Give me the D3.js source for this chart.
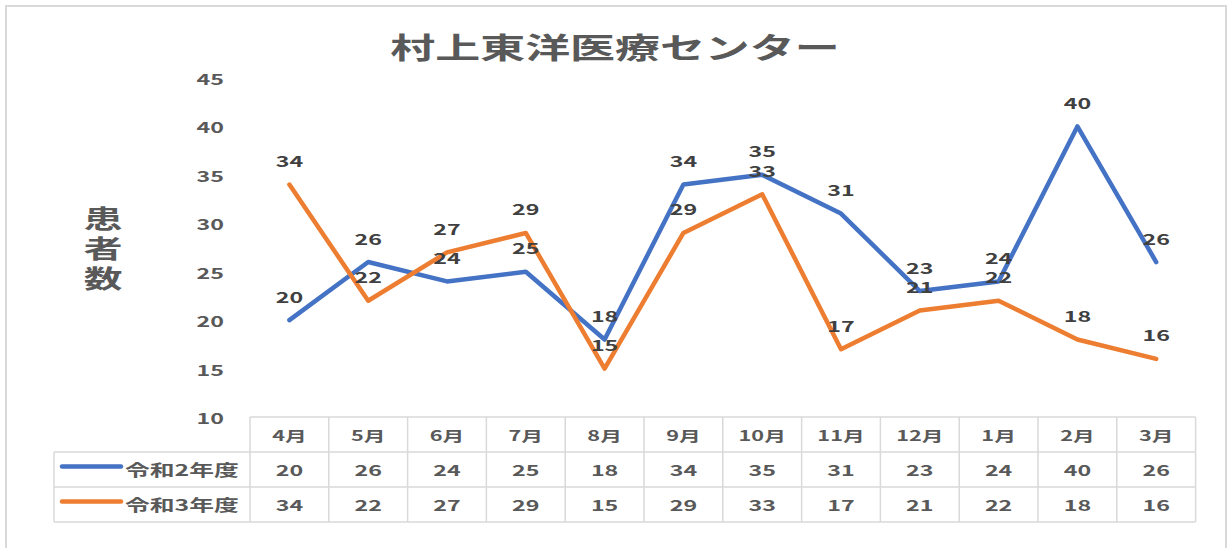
<!DOCTYPE html>
<html>
<head>
<meta charset="utf-8">
<script src="https://cdn.jsdelivr.net/npm/d3@7"></script>
<style>
  body { margin: 0; background: #fff; }
  text { font-family: "Noto Sans CJK JP", "Noto Sans", sans-serif; font-weight: bold; }
</style>
</head>
<body>
<div id="chart-area"></div>
<script>

// data
var months = ["4月", "5月", "6月", "7月", "8月", "9月", "10月", "11月", "12月", "1月", "2月", "3月"];
var seriesNames = ["令和2年度", "令和3年度"];
var r2 = [20, 26, 24, 25, 18, 34, 35, 31, 23, 24, 40, 26];
var r3 = [34, 22, 27, 29, 15, 29, 33, 17, 21, 22, 18, 16];
var yTicks = [10, 15, 20, 25, 30, 35, 40, 45];
var colors = ["#4472C4", "#ED7D31"];

var series = [
  {name: seriesNames[0], values: r2, color: colors[0]},
  {name: seriesNames[1], values: r3, color: colors[1]}
];

var width = 1227, height = 548;
var stretch = 1.55;   // the picture's text is wide

var svg = d3.select("#chart-area").append("svg")
    .attr("width", width)
    .attr("height", height);

// outer frame
svg.append("rect")
    .attr("x", 6).attr("y", 6)
    .attr("width", 1220).attr("height", 560)
    .attr("fill", "#fff")
    .attr("stroke", "#d9d9d9")
    .attr("stroke-width", 2);

// wide text helper
function wideText(parent, x, y, str, size, anchor, color) {
  return parent.append("text")
      .attr("transform", "translate(" + x + "," + y + ") scale(" + stretch + ",1)")
      .attr("text-anchor", anchor)
      .attr("dominant-baseline", "central")
      .attr("font-size", size)
      .attr("fill", color)
      .text(str);
}

// scales
var x = d3.scaleBand()
    .domain(months)
    .range([250, 1195.6]);

var y = d3.scaleLinear()
    .domain([10, 45])
    .range([417, 78]);

function cx(d, i) { return x(months[i]) + x.bandwidth() / 2; }

// title
wideText(svg, 615, 46, "村上東洋医療センター", 29, "middle", "#595959");

// y axis title (vertical)
["患", "者", "数"].forEach(function(c, i) {
  wideText(svg, 103, 217 + i * 30, c, 25, "middle", "#595959");
});

// y axis
var yAxis = d3.axisLeft(y).tickValues(yTicks).tickSize(0).tickPadding(0);
var yg = svg.append("g")
    .attr("transform", "translate(224,0)")
    .call(yAxis);
yg.select(".domain").remove();
yg.selectAll("text")
    .attr("x", 0)
    .attr("dy", null)
    .attr("dominant-baseline", "central")
    .attr("transform", "scale(" + stretch + ",1)")
    .attr("font-size", 15)
    .attr("font-family", null)
    .attr("fill", "#595959");

// lines
var line = d3.line()
    .x(function(d, i) { return cx(d, i); })
    .y(function(d) { return y(d); });

series.forEach(function(s) {
  svg.append("path")
      .datum(s.values)
      .attr("d", line)
      .attr("fill", "none")
      .attr("stroke", s.color)
      .attr("stroke-width", 4.5)
      .attr("stroke-linejoin", "round")
      .attr("stroke-linecap", "round");
});

// data labels
series.forEach(function(s) {
  s.values.forEach(function(v, i) {
    wideText(svg, cx(v, i), y(v) - 24, v, 15, "middle", "#404040");
  });
});

// data table
var rowTop = 417, rowH = 35, tableLeft = 54;
var tableRight = x.range()[1];
var grid = svg.append("g")
    .attr("stroke", "#d9d9d9")
    .attr("stroke-width", 1.5);

grid.append("line").attr("x1", x.range()[0]).attr("x2", tableRight)
    .attr("y1", rowTop).attr("y2", rowTop);
[1, 2, 3].forEach(function(r) {
  grid.append("line").attr("x1", tableLeft).attr("x2", tableRight)
      .attr("y1", rowTop + r * rowH).attr("y2", rowTop + r * rowH);
});
grid.append("line").attr("x1", tableLeft).attr("x2", tableLeft)
    .attr("y1", rowTop + rowH).attr("y2", rowTop + 3 * rowH);
months.forEach(function(m) {
  grid.append("line").attr("x1", x(m)).attr("x2", x(m))
      .attr("y1", rowTop).attr("y2", rowTop + 3 * rowH);
});
grid.append("line").attr("x1", tableRight).attr("x2", tableRight)
    .attr("y1", rowTop).attr("y2", rowTop + 3 * rowH);

// header row
months.forEach(function(m) {
  wideText(svg, x(m) + x.bandwidth() / 2, rowTop + rowH / 2, m, 14, "middle", "#595959");
});

// series rows with legend keys
series.forEach(function(s, r) {
  var cy = rowTop + (r + 1.5) * rowH;
  svg.append("line")
      .attr("x1", 62).attr("x2", 121)
      .attr("y1", cy - 3).attr("y2", cy - 3)
      .attr("stroke", s.color)
      .attr("stroke-width", 4.5)
      .attr("stroke-linecap", "round");
  wideText(svg, 125, cy, s.name, 16, "start", "#595959");
  s.values.forEach(function(v, i) {
    wideText(svg, x(months[i]) + x.bandwidth() / 2, cy, v, 15, "middle", "#595959");
  });
});

</script>
</body>
</html>
